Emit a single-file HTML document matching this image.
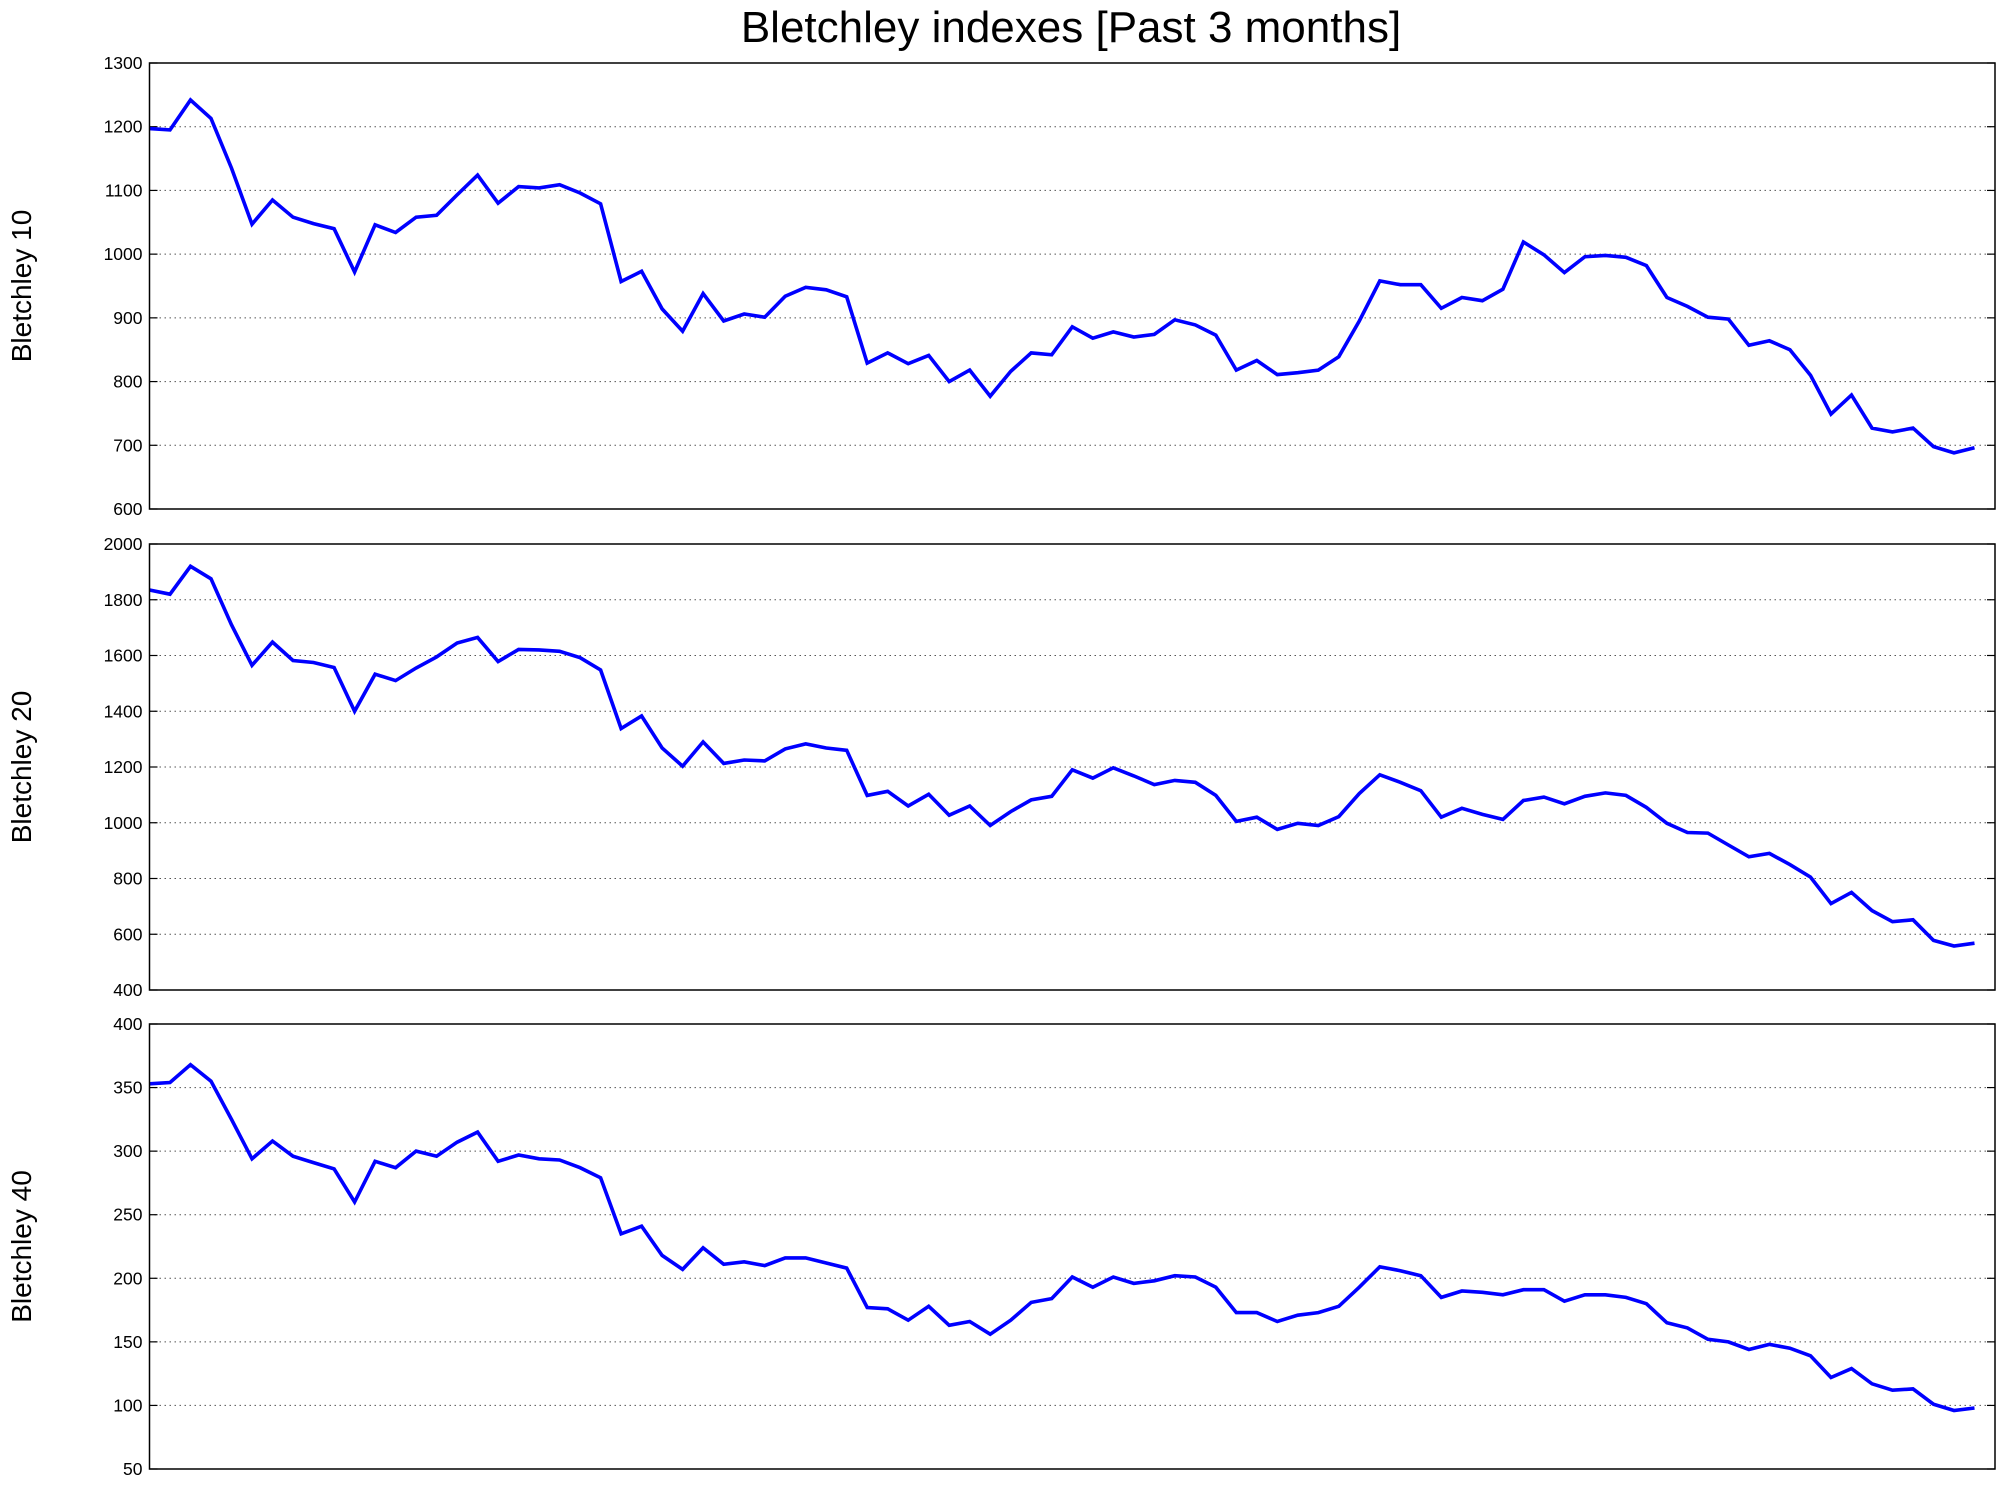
<!DOCTYPE html>
<html><head><meta charset="utf-8"><style>
html,body{margin:0;padding:0;background:#fff;}
svg{display:block;font-family:"Liberation Sans","DejaVu Sans",sans-serif;}
</style></head><body>
<svg id="chart" width="2004" height="1488" viewBox="0 0 2004 1488" xmlns="http://www.w3.org/2000/svg">
<rect width="2004" height="1488" fill="#fff"/>
<text x="1071" y="42" text-anchor="middle" font-size="44" fill="#000">Bletchley indexes [Past 3 months]</text>
</svg>
<script>
const b10 = [1197,1195,1242,1213,1135,1047,1085,1058,1048,1040,972,1046,1034,1058,1061,1093,1124,1080,1106,1104,1109,1096,1079,957,973,914,879,938,895,906,901,934,948,944,933,829,845,828,841,800,818,777,816,845,842,886,868,878,870,874,897,889,873,818,833,811,814,818,839,895,958,952,952,915,932,927,945,1019,999,971,996,998,995,982,932,918,901,898,857,864,850,810,749,779,727,721,727,698,688,696];
const b20 = [1835,1820,1920,1875,1710,1565,1648,1582,1575,1557,1400,1533,1510,1555,1595,1645,1665,1578,1622,1620,1615,1592,1548,1338,1383,1268,1203,1290,1213,1225,1222,1265,1283,1268,1260,1098,1113,1060,1102,1027,1060,990,1040,1082,1095,1190,1160,1197,1168,1137,1152,1145,1098,1005,1020,976,998,990,1022,1105,1172,1145,1115,1020,1052,1030,1012,1080,1092,1068,1095,1107,1098,1055,998,965,963,920,878,890,850,805,710,750,685,645,652,578,558,568];
const b40 = [353,354,368,355,325,294,308,296,291,286,260,292,287,300,296,307,315,292,297,294,293,287,279,235,241,218,207,224,211,213,210,216,216,212,208,177,176,167,178,163,166,156,167,181,184,201,193,201,196,198,202,201,193,173,173,166,171,173,178,193,209,206,202,185,190,189,187,191,191,182,187,187,185,180,165,161,152,150,144,148,145,139,122,129,117,112,113,101,96,98];
const ticks10 = [600,700,800,900,1000,1100,1200,1300];
const ticks20 = [400,600,800,1000,1200,1400,1600,1800,2000];
const ticks40 = [50,100,150,200,250,300,350,400];
const labels = ["Bletchley 10","Bletchley 20","Bletchley 40"];

const NS = "http://www.w3.org/2000/svg";
const svg = document.getElementById('chart');
const L = 149.5, R = 1995, XMAX = 90.0;
const panels = [
  {data:b10, ticks:ticks10, top:63, bottom:509, name:'bletchley-10'},
  {data:b20, ticks:ticks20, top:544, bottom:990, name:'bletchley-20'},
  {data:b40, ticks:ticks40, top:1024, bottom:1469, name:'bletchley-40'}
];
function mk(tag, attrs){const e=document.createElementNS(NS,tag);for(const k in attrs)e.setAttribute(k,attrs[k]);return e;}
function xs(i){return L + (R-L)*i/XMAX;}
panels.forEach((p,pi)=>{
  const lo=p.ticks[0], hi=p.ticks[p.ticks.length-1];
  const ys=v=>p.bottom-(p.bottom-p.top)*(v-lo)/(hi-lo);
  const g=mk('g',{});
  
  
  svg.appendChild(g);
  p.ticks.forEach((t,ti)=>{
    const y=ys(t);
    if(ti>0 && ti<p.ticks.length-1){
      const gl=mk('line',{x1:L,x2:R,y1:y,y2:y,stroke:'#555','stroke-width':1,'stroke-dasharray':'1.5,3.5'});
      
      
      g.appendChild(gl);
    }
    g.appendChild(mk('line',{x1:L,x2:L+8,y1:y,y2:y,stroke:'#000','stroke-width':1.2}));
    g.appendChild(mk('line',{x1:R-8,x2:R,y1:y,y2:y,stroke:'#000','stroke-width':1.2}));
    const tx=mk('text',{x:L-7,y:y+6,'text-anchor':'end','font-size':17.5,fill:'#000'});
    
    
    tx.textContent=t;
    g.appendChild(tx);
  });
  const pts=p.data.map((v,i)=>xs(i).toFixed(1)+','+ys(v).toFixed(1)).join(' ');
  const line=mk('polyline',{points:pts,fill:'none',stroke:'#0000ff','stroke-width':3.6,'stroke-linejoin':'miter'});
  
  
  g.appendChild(line);
  const fr=mk('rect',{x:L,y:p.top,width:R-L,height:p.bottom-p.top,fill:'none',stroke:'#000','stroke-width':1.5});
  
  
  g.appendChild(fr);
  const cy=(p.top+p.bottom)/2;
  const yl=mk('text',{x:0,y:0,'text-anchor':'middle','font-size':28,fill:'#000',transform:'translate(31,'+cy+') rotate(-90)'});
  
  
  yl.textContent=labels[pi];
  g.appendChild(yl);
});
</script>
</body></html>
